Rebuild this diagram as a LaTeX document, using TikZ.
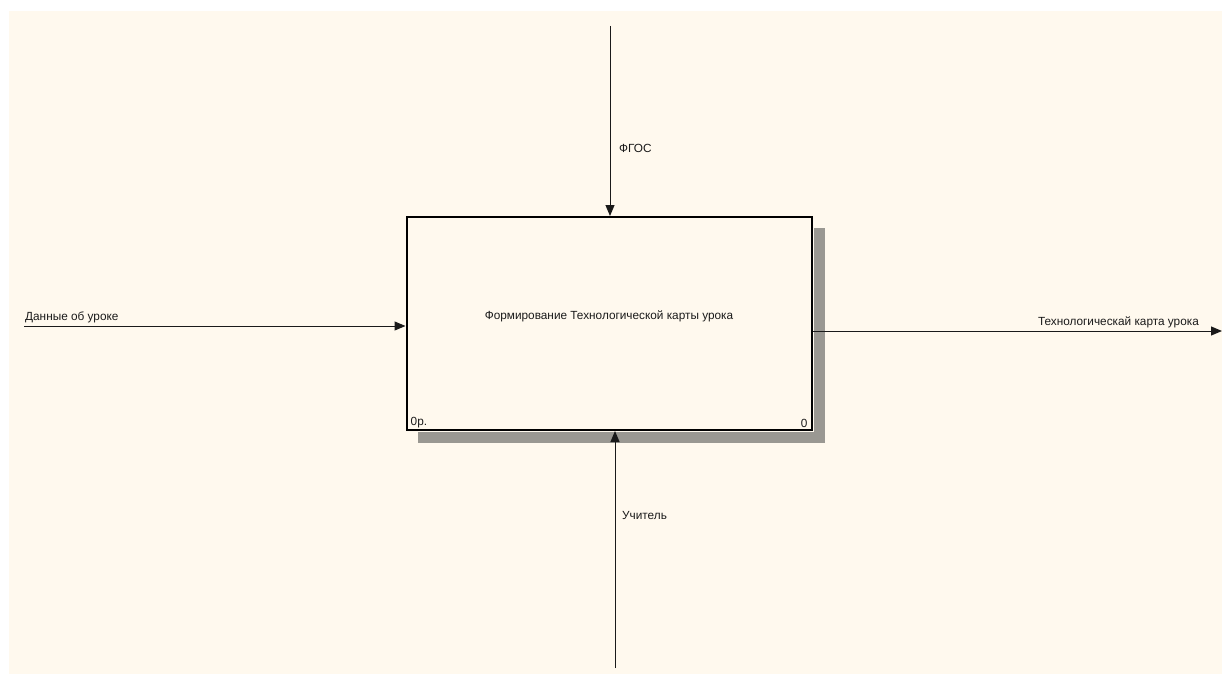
\documentclass[tikz,border=0pt]{standalone}
\usepackage{fontspec}
\setmainfont{Liberation Sans}
\usetikzlibrary{arrows.meta,positioning,calc}
\definecolor{paper}{HTML}{FFF9EE}
\definecolor{hatchgray}{HTML}{9A9892}
\definecolor{ink}{HTML}{1A1A1A}
\tikzset{>={Triangle[length=11pt,width=9pt]},actbox/.style={draw=black,line width=2pt,fill=paper,minimum width=405pt,minimum height=213pt,inner sep=0pt},arr/.style={->,line width=1pt,ink},lbl/.style={font=\fontsize{11.8}{13}\selectfont,text=ink,inner sep=1pt}}
\begin{document}
\begin{tikzpicture}[x=1pt,y=-1pt]
\useasboundingbox (0,0) rectangle (1222,674);
\fill[paper] (9,11) rectangle (1222,674);
\node[actbox] (act) at (609,323.5) {};
% shadow strips
\fill[hatchgray] ($(act.north east)+(1,12)$) rectangle ($(act.south east)+(12,12)$);
\fill[hatchgray] ($(act.south west)+(12,1)$) rectangle ($(act.south east)+(12,12)$);
\node[lbl] (title) at (act.center) [yshift=7pt] {Формирование Технологической карты урока};
\node[lbl,anchor=south west] (num) at ($(act.south west)+(4,-2)$) {0р.};
\node[lbl,anchor=south east] (nd) at ($(act.south east)+(-4,-2)$) {0};
\coordinate (ctrl) at (610,26);
\coordinate (mech) at (615,668);
\coordinate (inp) at (24,326);
\coordinate (outp) at (1222,331);
\draw[arr] (ctrl) -- (act.north -| ctrl);
\draw[arr] (mech) -- (act.south -| mech);
\draw[arr] (inp) -- (act.west |- inp);
\draw[arr] (act.east |- outp) -- (outp);
\node[lbl,anchor=west] (fgos) at (618,148) {ФГОС};
\node[lbl,anchor=west] (teacher) at (621,515) {Учитель};
\node[lbl,anchor=south west] (data) at ($(inp)+(0,-2)$) {Данные об уроке};
\node[lbl,anchor=south east] (card) at (1200,329) {Технологическай карта урока};
\end{tikzpicture}
\end{document}
